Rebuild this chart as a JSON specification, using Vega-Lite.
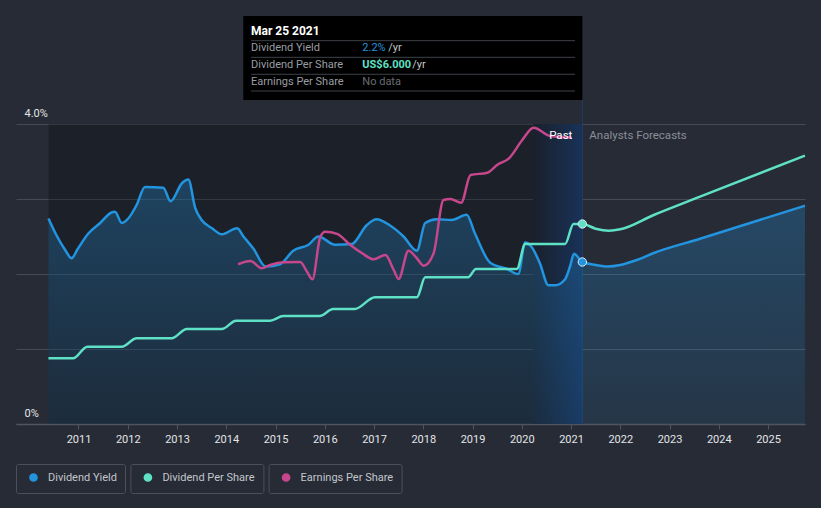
{
  "$schema": "https://vega.github.io/schema/vega-lite/v6.json",
  "width": 789,
  "height": 300,
  "autosize": {"type": "none"},
  "padding": {"left": 16, "top": 124, "right": 16, "bottom": 84},
  "background": "#262b36",
  "config": {
    "view": {"stroke": null},
    "font": "Roboto",
    "axisX": {"domainColor": "#50555f", "domainWidth": 1.5, "tickColor": "#50555f", "tickSize": 5, "labelColor": "#e4e5e7", "labelFontSize": 11, "labelFont": "Roboto", "labelPadding": 4, "grid": false},
    "axisY": {"domain": false, "ticks": false, "tickSize": 0, "grid": true, "gridColor": "#454a55", "gridWidth": 1, "labelColor": "#e4e5e7", "labelFontSize": 11, "labelFont": "Roboto", "labelAlign": "left", "labelBaseline": "alphabetic", "labelPadding": -8, "labelOffset": -8},
    "legend": {"labelColor": "#c3c6cb", "labelFontSize": 11, "labelFont": "Roboto"}
  },
  "datasets": {
    "periods": [
      {"kind": "past", "start": 2010.39, "end": 2020.23},
      {"kind": "lastyear", "start": 2020.23, "end": 2021.23}
    ],
    "now": [
      {"t": 2021.23, "date": "Mar 25 2021", "yield": 2.16, "dps": 6.0, "yieldText": "2.2%", "dpsText": "US$6.000", "epsText": "No data"}
    ],
    "yield": [
      {"t": 2010.39, "v": 2.74}, {"t": 2010.55, "v": 2.52}, {"t": 2010.72, "v": 2.33}, {"t": 2010.86, "v": 2.21},
      {"t": 2010.98, "v": 2.33}, {"t": 2011.2, "v": 2.54}, {"t": 2011.44, "v": 2.68}, {"t": 2011.67, "v": 2.82},
      {"t": 2011.74, "v": 2.83}, {"t": 2011.88, "v": 2.68}, {"t": 2012.01, "v": 2.74}, {"t": 2012.18, "v": 2.92},
      {"t": 2012.35, "v": 3.16}, {"t": 2012.72, "v": 3.15}, {"t": 2012.87, "v": 2.97}, {"t": 2013.1, "v": 3.21},
      {"t": 2013.23, "v": 3.26}, {"t": 2013.37, "v": 2.88}, {"t": 2013.5, "v": 2.72}, {"t": 2013.71, "v": 2.61},
      {"t": 2013.91, "v": 2.53}, {"t": 2014.22, "v": 2.61}, {"t": 2014.35, "v": 2.5}, {"t": 2014.55, "v": 2.34},
      {"t": 2014.8, "v": 2.1}, {"t": 2015.09, "v": 2.13}, {"t": 2015.36, "v": 2.31}, {"t": 2015.67, "v": 2.39},
      {"t": 2015.87, "v": 2.5}, {"t": 2016.21, "v": 2.39}, {"t": 2016.55, "v": 2.4}, {"t": 2016.85, "v": 2.65},
      {"t": 2017.05, "v": 2.73}, {"t": 2017.32, "v": 2.65}, {"t": 2017.6, "v": 2.5}, {"t": 2017.87, "v": 2.31},
      {"t": 2018.04, "v": 2.68}, {"t": 2018.27, "v": 2.73}, {"t": 2018.58, "v": 2.72}, {"t": 2018.88, "v": 2.79},
      {"t": 2019.05, "v": 2.54}, {"t": 2019.36, "v": 2.15}, {"t": 2019.69, "v": 2.07}, {"t": 2019.93, "v": 2.0},
      {"t": 2020.07, "v": 2.42}, {"t": 2020.2, "v": 2.36}, {"t": 2020.37, "v": 2.14}, {"t": 2020.54, "v": 1.85},
      {"t": 2020.68, "v": 1.85}, {"t": 2020.88, "v": 1.93}, {"t": 2020.98, "v": 2.1}, {"t": 2021.06, "v": 2.27},
      {"t": 2021.23, "v": 2.16}, {"t": 2021.5, "v": 2.12}, {"t": 2021.75, "v": 2.1}, {"t": 2022.0, "v": 2.12},
      {"t": 2022.35, "v": 2.19}, {"t": 2022.68, "v": 2.28}, {"t": 2023.62, "v": 2.47}, {"t": 2025.75, "v": 2.91}
    ],
    "dps": [
      {"t": 2010.39, "v": 1.97}, {"t": 2010.89, "v": 1.97}, {"t": 2011.18, "v": 2.32}, {"t": 2011.88, "v": 2.32},
      {"t": 2012.18, "v": 2.57}, {"t": 2012.89, "v": 2.57}, {"t": 2013.2, "v": 2.85}, {"t": 2013.91, "v": 2.85},
      {"t": 2014.2, "v": 3.1}, {"t": 2014.89, "v": 3.1}, {"t": 2015.16, "v": 3.24}, {"t": 2015.9, "v": 3.24},
      {"t": 2016.17, "v": 3.45}, {"t": 2016.61, "v": 3.45}, {"t": 2017.02, "v": 3.8}, {"t": 2017.87, "v": 3.8},
      {"t": 2018.04, "v": 4.4}, {"t": 2018.91, "v": 4.4}, {"t": 2019.07, "v": 4.65}, {"t": 2019.9, "v": 4.65},
      {"t": 2020.07, "v": 5.4}, {"t": 2020.88, "v": 5.4}, {"t": 2021.05, "v": 6.0}, {"t": 2021.23, "v": 6.0},
      {"t": 2021.5, "v": 5.86}, {"t": 2021.77, "v": 5.8}, {"t": 2022.0, "v": 5.84}, {"t": 2022.68, "v": 6.27},
      {"t": 2023.62, "v": 6.82}, {"t": 2025.75, "v": 8.05}
    ],
    "eps": [
      {"t": 2014.24, "v": 10.65}, {"t": 2014.49, "v": 10.87}, {"t": 2014.72, "v": 10.38}, {"t": 2014.89, "v": 10.6},
      {"t": 2015.16, "v": 10.78}, {"t": 2015.5, "v": 10.8}, {"t": 2015.64, "v": 10.15}, {"t": 2015.75, "v": 9.65},
      {"t": 2015.91, "v": 12.49}, {"t": 2016.01, "v": 12.82}, {"t": 2016.25, "v": 12.67}, {"t": 2016.52, "v": 11.93},
      {"t": 2016.76, "v": 11.38}, {"t": 2016.99, "v": 10.98}, {"t": 2017.23, "v": 11.27}, {"t": 2017.4, "v": 10.27},
      {"t": 2017.5, "v": 9.67}, {"t": 2017.7, "v": 11.55}, {"t": 2017.87, "v": 11.05}, {"t": 2018.01, "v": 10.55},
      {"t": 2018.21, "v": 11.38}, {"t": 2018.41, "v": 14.93}, {"t": 2018.55, "v": 15.0}, {"t": 2018.77, "v": 14.75},
      {"t": 2018.96, "v": 16.6}, {"t": 2019.3, "v": 16.75}, {"t": 2019.5, "v": 17.27}, {"t": 2019.74, "v": 17.71},
      {"t": 2020.01, "v": 18.93}, {"t": 2020.24, "v": 19.75}, {"t": 2020.58, "v": 19.2}, {"t": 2021.02, "v": 19.09}
    ]
  },
  "resolve": {"scale": {"y": "independent", "color": "independent"}, "axis": {"y": "independent"}, "legend": {"color": "independent"}},
  "layer": [
    {
      "layer": [
        {
          "data": {"name": "periods"},
          "transform": [{"filter": "datum.kind == 'past'"}],
          "mark": {"type": "rect", "fill": "#000000", "fillOpacity": 0.24},
          "encoding": {
            "x": {"field": "start", "type": "quantitative", "scale": {"domain": [2009.731, 2025.751], "nice": false, "zero": false}, "axis": {"values": [2011, 2012, 2013, 2014, 2015, 2016, 2017, 2018, 2019, 2020, 2021, 2022, 2023, 2024, 2025], "format": "d", "title": null}},
            "x2": {"field": "end"},
            "y": {"datum": 0, "type": "quantitative", "scale": {"domain": [0, 4], "nice": false, "zero": false}, "axis": {"values": [0, 1, 2, 3, 4], "title": null, "labelExpr": "datum.value == 0 ? '0%' : datum.value == 4 ? '4.0%' : ''"}},
            "y2": {"datum": 4}
          }
        },
        {
          "data": {"name": "periods"},
          "transform": [{"filter": "datum.kind == 'lastyear'"}],
          "mark": {"type": "rect", "fill": {"gradient": "linear", "x1": 0, "y1": 0, "x2": 1, "y2": 0, "stops": [{"offset": 0, "color": "#1a202c"}, {"offset": 1, "color": "#183258"}]}},
          "encoding": {
            "x": {"field": "start", "type": "quantitative", "scale": {"domain": [2009.731, 2025.751], "nice": false, "zero": false}, "axis": {"values": [2011, 2012, 2013, 2014, 2015, 2016, 2017, 2018, 2019, 2020, 2021, 2022, 2023, 2024, 2025], "format": "d", "title": null}},
            "x2": {"field": "end"},
            "y": {"datum": 0, "type": "quantitative", "scale": {"domain": [0, 4], "nice": false, "zero": false}, "axis": {"values": [0, 1, 2, 3, 4], "title": null, "labelExpr": "datum.value == 0 ? '0%' : datum.value == 4 ? '4.0%' : ''"}},
            "y2": {"datum": 4}
          }
        },
        {
          "data": {"name": "now"},
          "mark": {"type": "rule", "color": "#1f3d6a", "strokeWidth": 1},
          "encoding": {
            "x": {"field": "t", "type": "quantitative", "scale": {"domain": [2009.731, 2025.751], "nice": false, "zero": false}, "axis": {"values": [2011, 2012, 2013, 2014, 2015, 2016, 2017, 2018, 2019, 2020, 2021, 2022, 2023, 2024, 2025], "format": "d", "title": null}},
            "y": {"datum": 0, "type": "quantitative", "scale": {"domain": [0, 4], "nice": false, "zero": false}, "axis": {"values": [0, 1, 2, 3, 4], "title": null, "labelExpr": "datum.value == 0 ? '0%' : datum.value == 4 ? '4.0%' : ''"}},
            "y2": {"datum": 4.32}
          }
        },
        {
          "data": {"name": "yield"},
          "mark": {"type": "area", "interpolate": "monotone", "fill": {"gradient": "linear", "x1": 0, "y1": 0, "x2": 0, "y2": 1, "stops": [{"offset": 0, "color": "rgba(35,148,223,0.30)"}, {"offset": 1, "color": "rgba(35,148,223,0.10)"}]}},
          "encoding": {
            "x": {"field": "t", "type": "quantitative", "scale": {"domain": [2009.731, 2025.751], "nice": false, "zero": false}, "axis": {"values": [2011, 2012, 2013, 2014, 2015, 2016, 2017, 2018, 2019, 2020, 2021, 2022, 2023, 2024, 2025], "format": "d", "title": null}},
            "y": {"field": "v", "type": "quantitative", "scale": {"domain": [0, 4], "nice": false, "zero": false}, "axis": {"values": [0, 1, 2, 3, 4], "title": null, "labelExpr": "datum.value == 0 ? '0%' : datum.value == 4 ? '4.0%' : ''"}}
          }
        },
        {
          "data": {"name": "yield"},
          "mark": {"type": "line", "interpolate": "monotone", "strokeWidth": 2.5},
          "encoding": {
            "x": {"field": "t", "type": "quantitative", "scale": {"domain": [2009.731, 2025.751], "nice": false, "zero": false}, "axis": {"values": [2011, 2012, 2013, 2014, 2015, 2016, 2017, 2018, 2019, 2020, 2021, 2022, 2023, 2024, 2025], "format": "d", "title": null}},
            "y": {"field": "v", "type": "quantitative", "scale": {"domain": [0, 4], "nice": false, "zero": false}, "axis": {"values": [0, 1, 2, 3, 4], "title": null, "labelExpr": "datum.value == 0 ? '0%' : datum.value == 4 ? '4.0%' : ''"}},
            "color": {"datum": "Dividend Yield", "type": "nominal", "scale": {"range": ["#2394df"]},
                      "legend": {"title": null, "orient": "none", "legendX": 0, "legendY": 340, "symbolType": "circle", "symbolSize": 52, "padding": 8, "symbolOffset": 4, "labelOffset": 9, "strokeColor": "#4b505c", "cornerRadius": 2,
                                 "encode": {"symbols": {"update": {"fill": {"value": "#2394df"}, "stroke": {"value": "transparent"}}}}}}
          }
        }
      ]
    },
    {
      "layer": [
        {
          "data": {"name": "dps"},
          "mark": {"type": "line", "interpolate": "monotone", "strokeWidth": 2.5},
          "encoding": {
            "x": {"field": "t", "type": "quantitative", "scale": {"domain": [2009.731, 2025.751], "nice": false, "zero": false}, "axis": {"values": [2011, 2012, 2013, 2014, 2015, 2016, 2017, 2018, 2019, 2020, 2021, 2022, 2023, 2024, 2025], "format": "d", "title": null}},
            "y": {"field": "v", "type": "quantitative", "scale": {"domain": [0, 9], "nice": false, "zero": false}, "axis": null},
            "color": {"datum": "Dividend Per Share", "type": "nominal", "scale": {"range": ["#5fe1c6"]},
                      "legend": {"title": null, "orient": "none", "legendX": 114.4, "legendY": 340, "symbolType": "circle", "symbolSize": 52, "padding": 8, "symbolOffset": 4, "labelOffset": 9, "strokeColor": "#4b505c", "cornerRadius": 2,
                                 "encode": {"symbols": {"update": {"fill": {"value": "#5fe1c6"}, "stroke": {"value": "transparent"}}}}}}
          }
        },
        {
          "data": {"name": "now"},
          "mark": {"type": "point", "filled": true, "size": 70, "fill": "#5fe1c6", "stroke": "#e3e8ee", "strokeWidth": 1, "opacity": 1},
          "encoding": {
            "x": {"field": "t", "type": "quantitative", "scale": {"domain": [2009.731, 2025.751], "nice": false, "zero": false}, "axis": {"values": [2011, 2012, 2013, 2014, 2015, 2016, 2017, 2018, 2019, 2020, 2021, 2022, 2023, 2024, 2025], "format": "d", "title": null}},
            "y": {"field": "dps", "type": "quantitative", "scale": {"domain": [0, 9], "nice": false, "zero": false}, "axis": null}
          }
        }
      ]
    },
    {
      "data": {"name": "eps"},
      "mark": {"type": "line", "interpolate": "monotone", "strokeWidth": 2.5},
      "encoding": {
        "x": {"field": "t", "type": "quantitative", "scale": {"domain": [2009.731, 2025.751], "nice": false, "zero": false}, "axis": {"values": [2011, 2012, 2013, 2014, 2015, 2016, 2017, 2018, 2019, 2020, 2021, 2022, 2023, 2024, 2025], "format": "d", "title": null}},
        "y": {"field": "v", "type": "quantitative", "scale": {"domain": [0, 20], "nice": false, "zero": false}, "axis": null},
        "color": {"datum": "Earnings Per Share", "type": "nominal", "scale": {"range": ["#c6478c"]},
                  "legend": {"title": null, "orient": "none", "legendX": 252.6, "legendY": 340, "symbolType": "circle", "symbolSize": 52, "padding": 8, "symbolOffset": 4, "labelOffset": 9, "strokeColor": "#4b505c", "cornerRadius": 2,
                             "encode": {"symbols": {"update": {"fill": {"value": "#c6478c"}, "stroke": {"value": "transparent"}}}}}}
      }
    },
    {
      "data": {"name": "now"},
      "encoding": {
        "x": {"field": "t", "type": "quantitative", "scale": {"domain": [2009.731, 2025.751], "nice": false, "zero": false}, "axis": {"values": [2011, 2012, 2013, 2014, 2015, 2016, 2017, 2018, 2019, 2020, 2021, 2022, 2023, 2024, 2025], "format": "d", "title": null}}
      },
      "layer": [
        {
          "mark": {"type": "point", "filled": true, "size": 70, "fill": "#2394df", "stroke": "#e3e8ee", "strokeWidth": 1, "opacity": 1},
          "encoding": {"y": {"field": "yield", "type": "quantitative", "scale": {"domain": [0, 4], "nice": false, "zero": false}, "axis": null}}
        },
        {
          "mark": {"type": "text", "text": "Past", "align": "right", "baseline": "middle", "dx": -10, "fontSize": 11.5, "color": "#ffffff", "font": "Roboto"},
          "encoding": {"y": {"datum": 3.84, "type": "quantitative", "scale": {"domain": [0, 4], "nice": false, "zero": false}, "axis": null}}
        },
        {
          "mark": {"type": "text", "text": "Analysts Forecasts", "align": "left", "baseline": "middle", "dx": 7, "fontSize": 11.5, "color": "#8a8e97", "font": "Roboto"},
          "encoding": {"y": {"datum": 3.84, "type": "quantitative", "scale": {"domain": [0, 4], "nice": false, "zero": false}, "axis": null}}
        },
        {
          "mark": {"type": "rect", "fill": "#000000"},
          "encoding": {
            "x": {"datum": 2014.346, "type": "quantitative", "scale": {"domain": [2009.731, 2025.751], "nice": false, "zero": false}, "axis": {"values": [2011, 2012, 2013, 2014, 2015, 2016, 2017, 2018, 2019, 2020, 2021, 2022, 2023, 2024, 2025], "format": "d", "title": null}},
            "x2": {"field": "t"},
            "y": {"datum": 4.32, "type": "quantitative", "scale": {"domain": [0, 4], "nice": false, "zero": false}, "axis": null},
            "y2": {"datum": 5.44}
          }
        },
        {
          "mark": {"type": "rule", "color": "#3e4148", "strokeWidth": 1},
          "encoding": {
            "x": {"datum": 2014.503, "type": "quantitative", "scale": {"domain": [2009.731, 2025.751], "nice": false, "zero": false}, "axis": {"values": [2011, 2012, 2013, 2014, 2015, 2016, 2017, 2018, 2019, 2020, 2021, 2022, 2023, 2024, 2025], "format": "d", "title": null}},
            "x2": {"datum": 2021.081},
            "y": {"datum": 5.111, "type": "quantitative", "scale": {"domain": [0, 4], "nice": false, "zero": false}, "axis": null}
          }
        },
        {
          "mark": {"type": "rule", "color": "#3e4148", "strokeWidth": 1},
          "encoding": {
            "x": {"datum": 2014.503, "type": "quantitative", "scale": {"domain": [2009.731, 2025.751], "nice": false, "zero": false}, "axis": {"values": [2011, 2012, 2013, 2014, 2015, 2016, 2017, 2018, 2019, 2020, 2021, 2022, 2023, 2024, 2025], "format": "d", "title": null}},
            "x2": {"datum": 2021.081},
            "y": {"datum": 4.889, "type": "quantitative", "scale": {"domain": [0, 4], "nice": false, "zero": false}, "axis": null}
          }
        },
        {
          "mark": {"type": "rule", "color": "#3e4148", "strokeWidth": 1},
          "encoding": {
            "x": {"datum": 2014.503, "type": "quantitative", "scale": {"domain": [2009.731, 2025.751], "nice": false, "zero": false}, "axis": {"values": [2011, 2012, 2013, 2014, 2015, 2016, 2017, 2018, 2019, 2020, 2021, 2022, 2023, 2024, 2025], "format": "d", "title": null}},
            "x2": {"datum": 2021.081},
            "y": {"datum": 4.663, "type": "quantitative", "scale": {"domain": [0, 4], "nice": false, "zero": false}, "axis": null}
          }
        },
        {
          "mark": {"type": "rule", "color": "#3e4148", "strokeWidth": 1},
          "encoding": {
            "x": {"datum": 2014.503, "type": "quantitative", "scale": {"domain": [2009.731, 2025.751], "nice": false, "zero": false}, "axis": {"values": [2011, 2012, 2013, 2014, 2015, 2016, 2017, 2018, 2019, 2020, 2021, 2022, 2023, 2024, 2025], "format": "d", "title": null}},
            "x2": {"datum": 2021.081},
            "y": {"datum": 4.44, "type": "quantitative", "scale": {"domain": [0, 4], "nice": false, "zero": false}, "axis": null}
          }
        },
        {
          "mark": {"type": "text", "align": "left", "baseline": "middle", "fontSize": 12, "fontWeight": "bold", "color": "#ffffff", "font": "Roboto"},
          "encoding": {
            "x": {"datum": 2014.503, "type": "quantitative", "scale": {"domain": [2009.731, 2025.751], "nice": false, "zero": false}, "axis": {"values": [2011, 2012, 2013, 2014, 2015, 2016, 2017, 2018, 2019, 2020, 2021, 2022, 2023, 2024, 2025], "format": "d", "title": null}},
            "y": {"datum": 5.236, "type": "quantitative", "scale": {"domain": [0, 4], "nice": false, "zero": false}, "axis": null},
            "text": {"field": "date"}
          }
        },
        {
          "mark": {"type": "text", "text": "Dividend Yield", "align": "left", "baseline": "middle", "fontSize": 11, "color": "#9a9da3", "font": "Roboto"},
          "encoding": {
            "x": {"datum": 2014.503, "type": "quantitative", "scale": {"domain": [2009.731, 2025.751], "nice": false, "zero": false}, "axis": {"values": [2011, 2012, 2013, 2014, 2015, 2016, 2017, 2018, 2019, 2020, 2021, 2022, 2023, 2024, 2025], "format": "d", "title": null}},
            "y": {"datum": 5.009, "type": "quantitative", "scale": {"domain": [0, 4], "nice": false, "zero": false}, "axis": null}
          }
        },
        {
          "mark": {"type": "text", "text": "Dividend Per Share", "align": "left", "baseline": "middle", "fontSize": 11, "color": "#9a9da3", "font": "Roboto"},
          "encoding": {
            "x": {"datum": 2014.503, "type": "quantitative", "scale": {"domain": [2009.731, 2025.751], "nice": false, "zero": false}, "axis": {"values": [2011, 2012, 2013, 2014, 2015, 2016, 2017, 2018, 2019, 2020, 2021, 2022, 2023, 2024, 2025], "format": "d", "title": null}},
            "y": {"datum": 4.787, "type": "quantitative", "scale": {"domain": [0, 4], "nice": false, "zero": false}, "axis": null}
          }
        },
        {
          "mark": {"type": "text", "text": "Earnings Per Share", "align": "left", "baseline": "middle", "fontSize": 11, "color": "#9a9da3", "font": "Roboto"},
          "encoding": {
            "x": {"datum": 2014.503, "type": "quantitative", "scale": {"domain": [2009.731, 2025.751], "nice": false, "zero": false}, "axis": {"values": [2011, 2012, 2013, 2014, 2015, 2016, 2017, 2018, 2019, 2020, 2021, 2022, 2023, 2024, 2025], "format": "d", "title": null}},
            "y": {"datum": 4.56, "type": "quantitative", "scale": {"domain": [0, 4], "nice": false, "zero": false}, "axis": null}
          }
        },
        {
          "mark": {"type": "text", "align": "left", "baseline": "middle", "fontSize": 11, "color": "#2394df", "font": "Roboto"},
          "encoding": {
            "x": {"datum": 2016.763, "type": "quantitative", "scale": {"domain": [2009.731, 2025.751], "nice": false, "zero": false}, "axis": {"values": [2011, 2012, 2013, 2014, 2015, 2016, 2017, 2018, 2019, 2020, 2021, 2022, 2023, 2024, 2025], "format": "d", "title": null}},
            "y": {"datum": 5.009, "type": "quantitative", "scale": {"domain": [0, 4], "nice": false, "zero": false}, "axis": null},
            "text": {"field": "yieldText"}
          }
        },
        {
          "mark": {"type": "text", "text": "/yr", "align": "left", "baseline": "middle", "dx": 26, "fontSize": 11, "color": "#c4c6ca", "font": "Roboto"},
          "encoding": {
            "x": {"datum": 2016.763, "type": "quantitative", "scale": {"domain": [2009.731, 2025.751], "nice": false, "zero": false}, "axis": {"values": [2011, 2012, 2013, 2014, 2015, 2016, 2017, 2018, 2019, 2020, 2021, 2022, 2023, 2024, 2025], "format": "d", "title": null}},
            "y": {"datum": 5.009, "type": "quantitative", "scale": {"domain": [0, 4], "nice": false, "zero": false}, "axis": null}
          }
        },
        {
          "mark": {"type": "text", "align": "left", "baseline": "middle", "fontSize": 11, "fontWeight": "bold", "color": "#5fe1c6", "font": "Roboto"},
          "encoding": {
            "x": {"datum": 2016.763, "type": "quantitative", "scale": {"domain": [2009.731, 2025.751], "nice": false, "zero": false}, "axis": {"values": [2011, 2012, 2013, 2014, 2015, 2016, 2017, 2018, 2019, 2020, 2021, 2022, 2023, 2024, 2025], "format": "d", "title": null}},
            "y": {"datum": 4.787, "type": "quantitative", "scale": {"domain": [0, 4], "nice": false, "zero": false}, "axis": null},
            "text": {"field": "dpsText"}
          }
        },
        {
          "mark": {"type": "text", "text": "/yr", "align": "left", "baseline": "middle", "dx": 50, "fontSize": 11, "color": "#c4c6ca", "font": "Roboto"},
          "encoding": {
            "x": {"datum": 2016.763, "type": "quantitative", "scale": {"domain": [2009.731, 2025.751], "nice": false, "zero": false}, "axis": {"values": [2011, 2012, 2013, 2014, 2015, 2016, 2017, 2018, 2019, 2020, 2021, 2022, 2023, 2024, 2025], "format": "d", "title": null}},
            "y": {"datum": 4.787, "type": "quantitative", "scale": {"domain": [0, 4], "nice": false, "zero": false}, "axis": null}
          }
        },
        {
          "mark": {"type": "text", "align": "left", "baseline": "middle", "fontSize": 11, "color": "#6a6d73", "font": "Roboto"},
          "encoding": {
            "x": {"datum": 2016.763, "type": "quantitative", "scale": {"domain": [2009.731, 2025.751], "nice": false, "zero": false}, "axis": {"values": [2011, 2012, 2013, 2014, 2015, 2016, 2017, 2018, 2019, 2020, 2021, 2022, 2023, 2024, 2025], "format": "d", "title": null}},
            "y": {"datum": 4.56, "type": "quantitative", "scale": {"domain": [0, 4], "nice": false, "zero": false}, "axis": null},
            "text": {"field": "epsText"}
          }
        }
      ]
    }
  ]
}
